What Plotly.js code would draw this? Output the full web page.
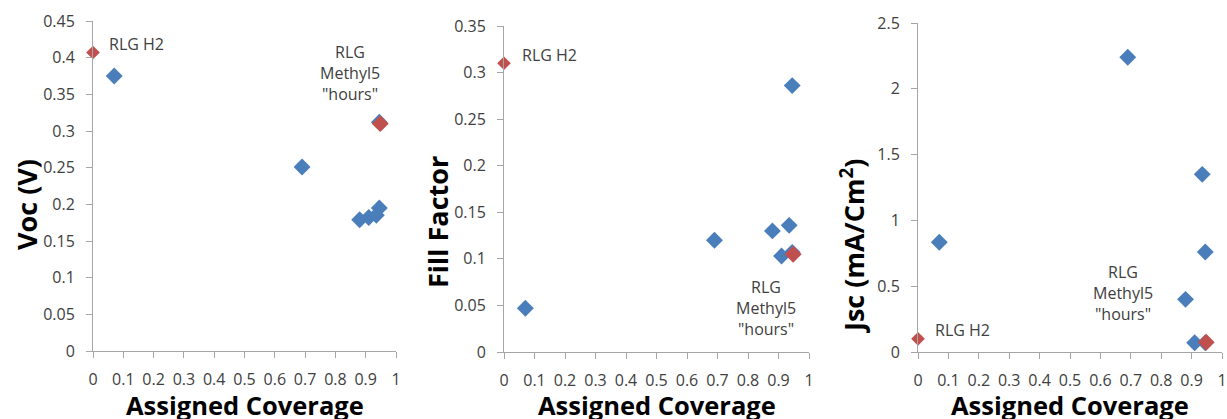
<!DOCTYPE html>
<html>
<head>
<meta charset="utf-8">
<script src="https://cdn.plot.ly/plotly-3.0.1.min.js"></script>
<style>
  html, body { margin: 0; padding: 0; background: #ffffff; }
  #chart { width: 1227px; height: 419px; }
</style>
</head>
<body>
<div id="chart"></div>
<script>
// Measured cells: assigned coverage and device parameters
const coverage = [0.07, 0.69, 0.88, 0.91, 0.935, 0.945, 0.945];
const voc      = [0.375, 0.251, 0.179, 0.182, 0.185, 0.195, 0.312];
const fillFac  = [0.047, 0.120, 0.130, 0.103, 0.136, 0.286, 0.107];
const jsc      = [0.834, 2.24, 0.40, 0.07, 1.35, 0.76, 0.07];

// Reference cells highlighted in red
const refNames    = ['RLG H2', 'RLG<br>Methyl5<br>"hours"'];
const refCoverage = [0, 0.948];
const refVoc      = [0.407, 0.31];
const refFill     = [0.31, 0.105];
const refJsc      = [0.10, 0.074];

// Axis tick settings
const xTickStep = 0.1;
const yRanges = [[0, 0.45], [0, 0.35], [0, 2.5]];
const yTickSteps = [0.05, 0.05, 0.5];
const yTitles = ['Voc (V)', 'Fill Factor', 'Jsc (mA/Cm<sup>2</sup>)'];
const xTitle = 'Assigned Coverage';

const BLUE = '#4a7ebb';
const RED = '#c0504d';
const AXIS = '#a6a6a6';
const TEXT = '#404040';
const FONT = 'Open Sans, sans-serif';

const W = 1227, H = 419;
// pixel boxes of each plot area: [left, right, top, bottom]
const boxes = [[93, 396, 21, 351], [504, 809, 26, 352], [918, 1222, 23, 352]];
// pixel centres of the rotated y titles: [x, y]
const yTitlePos = [[26, 205], [437, 222], [852, 246]];
const xTitleY = 405;

const series = [voc, fillFac, jsc];
const refSeries = [refVoc, refFill, refJsc];

const data = [];
series.forEach((ys, i) => {
  const sfx = i === 0 ? '' : String(i + 1);
  data.push({
    type: 'scatter', mode: 'markers',
    x: coverage, y: ys,
    xaxis: 'x' + sfx, yaxis: 'y' + sfx,
    cliponaxis: false,
    marker: { symbol: 'diamond', size: 13, color: BLUE, opacity: 1, line: { width: 0 } },
    showlegend: false, hoverinfo: 'x+y'
  });
  data.push({
    type: 'scatter', mode: 'markers',
    x: refCoverage, y: refSeries[i],
    xaxis: 'x' + sfx, yaxis: 'y' + sfx,
    cliponaxis: false,
    marker: { symbol: 'diamond', size: [10.5, 13], color: RED, opacity: 1, line: { width: 0 } },
    showlegend: false, hoverinfo: 'x+y'
  });
});

const layout = {
  width: W, height: H,
  margin: { l: 0, r: 0, t: 0, b: 0 },
  paper_bgcolor: '#ffffff', plot_bgcolor: '#ffffff',
  font: { family: FONT, color: TEXT, size: 16 },
  showlegend: false,
  annotations: []
};

// label offsets (px) relative to each highlighted point
const labelOffsets = [
  [[14, 9, 'left'], [-30, 51, 'center']],
  [[16, 8, 'left'], [-27, -54, 'center']],
  [[15, 9, 'left'], [-83, 49, 'center']]
];

const titleFont = { family: FONT, color: '#000000', weight: 'bold' };

boxes.forEach((b, i) => {
  const sfx = i === 0 ? '' : String(i + 1);
  layout['xaxis' + sfx] = {
    domain: [b[0] / W, b[1] / W],
    anchor: 'y' + sfx,
    range: [0, 1], dtick: xTickStep, tick0: 0,
    showgrid: false, zeroline: false,
    showline: true, linecolor: AXIS, linewidth: 1,
    ticks: 'outside', ticklen: 6, tickcolor: AXIS, tickwidth: 1,
    ticklabelstandoff: 8,
    tickfont: { family: FONT, size: 16, color: TEXT },
    fixedrange: true
  };
  layout['yaxis' + sfx] = {
    domain: [1 - b[3] / H, 1 - b[2] / H],
    anchor: 'x' + sfx,
    range: yRanges[i], dtick: yTickSteps[i], tick0: 0,
    showgrid: false, zeroline: false,
    showline: true, linecolor: AXIS, linewidth: 1,
    ticks: 'outside', ticklen: 6, tickcolor: AXIS, tickwidth: 1,
    ticklabelstandoff: 8,
    tickfont: { family: FONT, size: 16, color: TEXT },
    fixedrange: true
  };

  // axis titles
  layout.annotations.push({
    xref: 'paper', yref: 'paper',
    x: (b[0] + b[1]) / 2 / W, y: 1 - xTitleY / H,
    xanchor: 'center', yanchor: 'middle',
    text: xTitle, showarrow: false,
    font: Object.assign({ size: 25.5 }, titleFont)
  });
  layout.annotations.push({
    xref: 'paper', yref: 'paper',
    x: yTitlePos[i][0] / W, y: 1 - yTitlePos[i][1] / H,
    xanchor: 'center', yanchor: 'middle',
    text: yTitles[i], textangle: -90, showarrow: false,
    font: Object.assign({ size: 27 }, titleFont)
  });

  // point labels
  refNames.forEach((name, k) => {
    const o = labelOffsets[i][k];
    layout.annotations.push({
      xref: 'x' + sfx, yref: 'y' + sfx,
      x: refCoverage[k], y: refSeries[i][k],
      text: name, showarrow: false,
      xanchor: o[2], yanchor: 'middle', align: 'center',
      xshift: o[0], yshift: o[1],
      font: { family: FONT, size: 16, color: TEXT }
    });
  });
});

Plotly.newPlot('chart', data, layout, { displayModeBar: false, staticPlot: true });
</script>
</body>
</html>
